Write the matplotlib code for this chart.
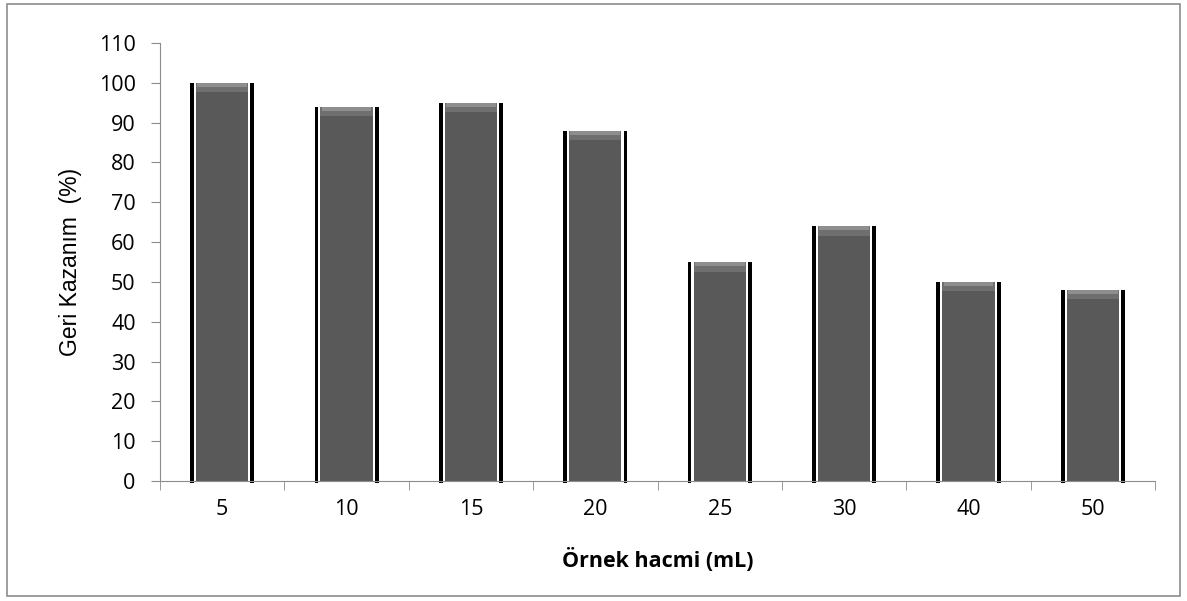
import numpy as np
import matplotlib.pyplot as plt

# data
categories = ['5', '10', '15', '20', '25', '30', '40', '50']
recovery = [100, 94, 95, 88, 55, 64, 50, 48]

fig = plt.figure(figsize=(11.87, 6.01), dpi=100)
# outer frame
fig.patches.append(plt.Rectangle((0.006, 0.008), 0.988, 0.985, transform=fig.transFigure,
                                 fill=False, edgecolor='#8c8c8c', linewidth=1.2))

ax = fig.add_axes([0.1348, 0.1997, 0.8383, 0.7288])
x = np.arange(len(categories))
vals = np.array(recovery, dtype=float)

# black side shadows, white gap, grey body, light bevel on top
ax.bar(x, vals + 0.6, width=0.515, bottom=-0.6, color='black', clip_on=False, zorder=2)
ax.bar(x, vals + 1.5, width=0.455, bottom=-0.5, color='white', clip_on=False, zorder=3)
ax.bar(x, vals, width=0.42, color='#595959', zorder=4)
ax.bar(x, 2.4, width=0.42, bottom=vals - 2.4, color='#6f6f6f', zorder=5)
ax.bar(x, 1.0, width=0.40, bottom=vals - 1.0, color='#8e8e8e', zorder=6)

ax.set_xlim(-0.5, len(categories) - 0.5)
ax.set_ylim(0, 110)
ax.set_yticks(range(0, 111, 10))
ax.set_xticks(x)
ax.set_xticklabels(categories)
ax.set_xticks(np.arange(-0.5, len(categories), 1), minor=True)
ax.tick_params(axis='x', which='major', length=0, pad=13, labelsize=15.5)
ax.tick_params(axis='x', which='minor', length=6.5, color='#8c8c8c', direction='out')
ax.tick_params(axis='y', length=6.5, color='#8c8c8c', labelsize=15.5, pad=11)
for lab in ax.get_xticklabels() + ax.get_yticklabels():
    lab.set_fontfamily('Open Sans')

for s in ['top', 'right']:
    ax.spines[s].set_visible(False)
ax.spines['left'].set_color('#8c8c8c')
ax.spines['bottom'].set_color('#8c8c8c')
ax.spines['bottom'].set_zorder(7)

ax.set_ylabel('Geri Kazanım  (%)', fontsize=16.5, fontfamily='Liberation Sans', labelpad=12)
ax.set_xlabel('Örnek hacmi (mL)', fontsize=15.5, fontweight='bold', fontfamily='Open Sans', labelpad=20)

plt.savefig('out.png', dpi=100)
